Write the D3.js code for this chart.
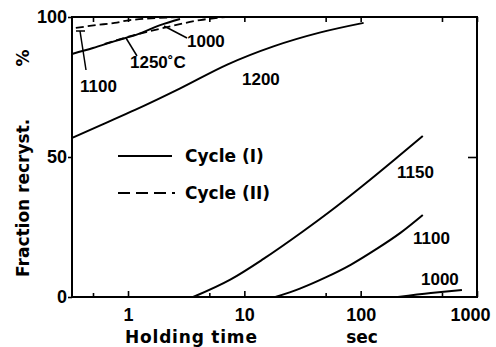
<!DOCTYPE html>
<html>
<head>
<meta charset="utf-8">
<script src="https://cdn.jsdelivr.net/npm/d3@7"></script>
<style>
  body { margin: 0; background: #fff; }
  svg { display: block; }
  .num { font-family: "Liberation Sans", Arial, sans-serif; font-weight: bold; }
  .word { font-family: "DejaVu Sans", sans-serif; font-weight: bold; }
</style>
</head>
<body>
<svg></svg>
<script>
// holding time (sec) and fraction recrystallized (%)
var majorTicks = [1, 10, 100, 1000];
var minorTicks = [0.5, 5, 50, 500];
var yTicks = [0, 50, 100];

// Cycle (I), solid
var time1200 = [0.33, 0.585, 1.15, 2.81, 7.13, 17.8, 45.2, 106];
var frac1200 = [56.8, 61.4, 66.8, 74.5, 83, 89.5, 94.5, 97.9];
var time1150 = [3.63, 7.57, 14.6, 31.6, 55.1, 106, 208, 342];
var frac1150 = [0, 6.2, 13.6, 23.3, 30.7, 40, 50, 57.5];
var time1100 = [18.5, 30, 50, 82, 135, 221, 342];
var frac1100 = [0, 3, 7, 11.5, 17, 23, 29.3];
var time1000 = [208, 401, 742];
var frac1000 = [0, 1.4, 2.5];
var timeTopSolid = [0.33, 0.5, 0.77, 1.22, 1.89, 2.8];
var fracTopSolid = [86.8, 88.9, 91.4, 93.9, 97.1, 99.3];

// Cycle (II), dashed
var timeDashA = [0.356, 0.53, 0.77, 1.04, 3.1];
var fracDashA = [96.1, 97.1, 97.9, 98.9, 100];
var timeDashB = [0.63, 1.15, 2.17, 4.17, 6.9];
var fracDashB = [90.4, 93.6, 96.4, 98.9, 100];

window.onload = function(){
    var svg = d3.select("svg")
        .attr("width", 496)
        .attr("height", 347);

    var left = 72, right = 477, top = 17, bottom = 297;

    var x = d3.scaleLog().domain([0.33, 1000]).range([left, right]);
    var y = d3.scaleLinear().domain([0, 100]).range([bottom, top]);

    // frame
    svg.append("rect")
        .attr("x", left).attr("y", top)
        .attr("width", right - left).attr("height", bottom - top)
        .attr("fill", "none").attr("stroke", "#000").attr("stroke-width", 2);

    // bottom axis, ticks pointing in
    svg.append("g")
        .attr("transform", "translate(0," + bottom + ")")
        .call(d3.axisBottom(x).tickValues(majorTicks).tickSize(-6)
            .tickPadding(11).tickFormat(d3.format("d")));
    svg.append("g")
        .attr("transform", "translate(0," + bottom + ")")
        .call(d3.axisBottom(x).tickValues(minorTicks).tickSize(-4).tickFormat(""));
    // top axis ticks
    svg.append("g")
        .attr("transform", "translate(0," + top + ")")
        .call(d3.axisTop(x).tickValues(majorTicks.concat(minorTicks)).tickSize(-5).tickFormat(""));

    // left axis
    svg.append("g")
        .attr("transform", "translate(" + left + ",0)")
        .call(d3.axisLeft(y).tickValues(yTicks).tickSize(4).tickPadding(1));
    // right axis: single tick at 50
    svg.append("g")
        .attr("transform", "translate(" + right + ",0)")
        .call(d3.axisRight(y).tickValues([50]).tickSize(-9).tickFormat(""));

    svg.selectAll(".domain").remove();
    svg.selectAll(".tick line").attr("stroke", "#000").attr("stroke-width", 1.6);
    svg.selectAll(".tick text")
        .attr("class", "num")
        .attr("font-size", 18)
        .attr("fill", "#000")
        .attr("dx", function(d){ return d === 1000 ? -7 : 0; });

    var line = d3.line()
        .x(function(d){ return x(d[0]); })
        .y(function(d){ return y(d[1]); })
        .curve(d3.curveMonotoneX);

    function pairs(ts, vs){
        return ts.map(function(t, i){ return [t, vs[i]]; });
    }

    var solid = [
        pairs(time1200, frac1200),
        pairs(time1150, frac1150),
        pairs(time1100, frac1100),
        pairs(time1000, frac1000),
        pairs(timeTopSolid, fracTopSolid)
    ];
    var dashed = [
        pairs(timeDashA, fracDashA),
        pairs(timeDashB, fracDashB)
    ];

    svg.selectAll("path.solid")
        .data(solid).enter()
        .append("path")
        .attr("class", "solid")
        .attr("d", line)
        .attr("fill", "none")
        .attr("stroke", "#000")
        .attr("stroke-width", 2);

    svg.selectAll("path.dashed")
        .data(dashed).enter()
        .append("path")
        .attr("class", "dashed")
        .attr("d", line)
        .attr("fill", "none")
        .attr("stroke", "#000")
        .attr("stroke-width", 1.8)
        .attr("stroke-dasharray", "8,4");

    // leader lines for the crowded top-left labels
    var leaders = [
        [[80, 31], [86, 70]],
        [[126, 38], [137, 56]],
        [[164, 26], [187, 38]]
    ];
    svg.selectAll("path.leader")
        .data(leaders).enter()
        .append("path")
        .attr("class", "leader")
        .attr("d", d3.line())
        .attr("fill", "none")
        .attr("stroke", "#000")
        .attr("stroke-width", 1.5);
    svg.append("line")
        .attr("x1", 76).attr("x2", 85).attr("y1", 31).attr("y2", 31)
        .attr("stroke", "#000").attr("stroke-width", 1.5);

    // curve labels
    var labels = [
        ["1100", 80, 92],
        ["1250\u02daC", 130, 68],
        ["1000", 187, 47],
        ["1200", 242, 85],
        ["1150", 397, 178],
        ["1100", 413, 244],
        ["1000", 421, 285]
    ];
    svg.selectAll("text.lab")
        .data(labels).enter()
        .append("text")
        .attr("class", "lab num")
        .attr("x", function(d){ return d[1]; })
        .attr("y", function(d){ return d[2]; })
        .attr("font-size", 17)
        .text(function(d){ return d[0]; });

    // legend
    svg.append("line")
        .attr("x1", 118).attr("x2", 172).attr("y1", 156).attr("y2", 156)
        .attr("stroke", "#000").attr("stroke-width", 2);
    svg.append("line")
        .attr("x1", 118).attr("x2", 175).attr("y1", 193).attr("y2", 193)
        .attr("stroke", "#000").attr("stroke-width", 1.8)
        .attr("stroke-dasharray", "12,6");
    svg.append("text").attr("class", "word")
        .attr("x", 185).attr("y", 162).attr("font-size", 17)
        .text("Cycle (I)");
    svg.append("text").attr("class", "word")
        .attr("x", 185).attr("y", 199).attr("font-size", 17)
        .text("Cycle (II)");

    // axis titles
    svg.append("text").attr("class", "word")
        .attr("x", 125).attr("y", 343).attr("font-size", 17)
        .attr("letter-spacing", 0.8)
        .text("Holding time");
    svg.append("text").attr("class", "word")
        .attr("x", 362).attr("y", 343).attr("font-size", 17)
        .attr("text-anchor", "middle")
        .text("sec");
    svg.append("text").attr("class", "word")
        .attr("transform", "translate(29,277) rotate(-90)")
        .attr("font-size", 17)
        .text("Fraction recryst.");
    svg.append("text").attr("class", "word")
        .attr("transform", "translate(29,58) rotate(-90)")
        .attr("text-anchor", "middle")
        .attr("font-size", 17)
        .text("%");
};
</script>
</body>
</html>
